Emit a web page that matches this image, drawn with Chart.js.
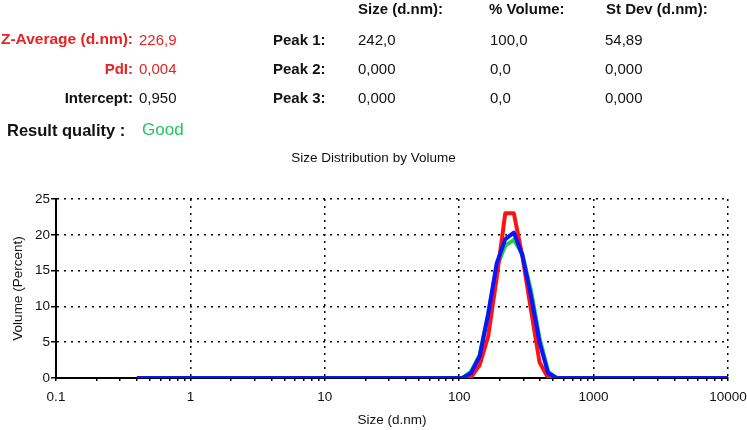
<!DOCTYPE html>
<html>
<head>
<meta charset="utf-8">
<script src="https://cdn.jsdelivr.net/npm/chart.js@4.4.1/dist/chart.umd.min.js"></script>
<style>
  body { margin: 0; background: #fff; font-family: Arial, "Liberation Sans", sans-serif; }
  #wrap { position: relative; width: 747px; height: 430px; overflow: hidden; }
  #sizeChart { position: absolute; left: 0; top: 0; }
  .t { position: absolute; transform: translateY(-50%); white-space: nowrap; font-size: 15px; color: #111; }
  .b { font-weight: bold; }
  .red { color: #e62222; }
  .lab { width: 133px; text-align: right; left: 0; }
</style>
</head>
<body>
<div id="wrap">
  <canvas id="sizeChart" width="747" height="430"></canvas>

  <div class="t b" style="left:358px; top:8px;">Size (d.nm):</div>
  <div class="t b" style="left:489px; top:8px;">% Volume:</div>
  <div class="t b" style="left:606px; top:8px;">St Dev (d.nm):</div>

  <div class="t b red lab" style="top:39px; font-size:15.5px;">Z-Average (d.nm):</div>
  <div class="t red" style="left:139px; top:39px;">226,9</div>
  <div class="t b red lab" style="top:68px;">PdI:</div>
  <div class="t red" style="left:139px; top:68px;">0,004</div>
  <div class="t b lab" style="top:97px;">Intercept:</div>
  <div class="t" style="left:139px; top:97px;">0,950</div>

  <div class="t b" style="left:273px; top:39px;">Peak 1:</div>
  <div class="t b" style="left:273px; top:68px;">Peak 2:</div>
  <div class="t b" style="left:273px; top:97px;">Peak 3:</div>

  <div class="t" style="left:358px; top:39px;">242,0</div>
  <div class="t" style="left:490px; top:39px;">100,0</div>
  <div class="t" style="left:605px; top:39px;">54,89</div>
  <div class="t" style="left:358px; top:68px;">0,000</div>
  <div class="t" style="left:490px; top:68px;">0,0</div>
  <div class="t" style="left:605px; top:68px;">0,000</div>
  <div class="t" style="left:358px; top:97px;">0,000</div>
  <div class="t" style="left:490px; top:97px;">0,0</div>
  <div class="t" style="left:605px; top:97px;">0,000</div>

  <div class="t b" style="left:7px; top:130px; font-size:16.5px;">Result quality :</div>
  <div class="t" style="left:142px; top:130px; font-size:17px; color:#1ec85a;">Good</div>
</div>

<script>
// size classes (d.nm) used by the curves
var sizes = [0.4, 91.28, 105.7, 122.4, 141.8, 164.2, 190.1, 220.2, 255.0, 295.3, 342.0, 396.1, 458.7, 531.2, 615.1, 10000];

// volume % per size class, one per measurement
var run1 = [0, 0, 0, 0.1, 1.8, 5.8, 14.0, 23.0, 23.0, 17.0, 9.5, 2.2, 0, 0, 0, 0];      // red
var run2 = [0, 0, 0, 0.9, 3.2, 9.0, 15.5, 18.5, 19.3, 17.3, 12.2, 5.6, 0.9, 0, 0, 0];  // green
var run3 = [0, 0, 0, 0.7, 3.0, 8.9, 16.0, 19.4, 20.3, 17.1, 11.5, 5.0, 0.7, 0, 0, 0];  // blue

var xMajor = [0.1, 1, 10, 100, 1000, 10000];
var xMajorLabels = ["0.1", "1", "10", "100", "1000", "10000"];
var xMinorSteps = [2, 3, 4, 5, 6, 7, 8, 9];
var yTicks = [0, 5, 10, 15, 20, 25];

function toPoints(vals) {
    return sizes.map(function(s, i) {
        return { x: s, y: vals[i] };
    });
}

function isMajorX(v) {
    var l = Math.log10(v);
    return Math.abs(l - Math.round(l)) < 1e-6;
}

var xTickValues = [];
xMajor.forEach(function(d, i) {
    xTickValues.push(d);
    if (i < xMajor.length - 1) {
        xMinorSteps.forEach(function(m) { xTickValues.push(d * m); });
    }
});

Chart.defaults.font.family = 'Arial, "Liberation Sans", sans-serif';
Chart.defaults.color = '#111';

var sizeChart_var = new Chart(document.getElementById('sizeChart'), {
    type: 'line',
    data: {
        datasets: [{
            data: toPoints(run3),
            borderColor: '#0a14ff',
            borderWidth: 4
        }, {
            data: toPoints(run1),
            borderColor: '#ff1212',
            borderWidth: 4
        }, {
            data: toPoints(run2),
            borderColor: '#20d040',
            borderWidth: 4
        }]
    },
    options: {
        responsive: false,
        animation: false,
        layout: { padding: 0 },
        elements: {
            point: { radius: 0 },
            line: { tension: 0, borderJoinStyle: 'round' }
        },
        plugins: {
            legend: { display: false },
            tooltip: { enabled: false },
            title: {
                display: true,
                text: 'Size Distribution by Volume',
                color: '#111',
                font: { size: 13.5, weight: 'normal' },
                padding: { top: 150, bottom: 32.8 }
            }
        },
        scales: {
            x: {
                type: 'logarithmic',
                min: 0.1,
                max: 10000,
                afterBuildTicks: function(scale) {
                    scale.ticks = xTickValues.map(function(v) { return { value: v }; });
                },
                afterFit: function(scale) {
                    scale.height = 52;
                    scale.paddingLeft = 0;
                    scale.paddingRight = 19;
                },
                ticks: {
                    autoSkip: false,
                    maxRotation: 0,
                    padding: 8,
                    color: '#111',
                    font: { size: 13.5 },
                    callback: function(v) {
                        var idx = xMajor.findIndex(function(m) { return Math.abs(m - v) < 1e-9 * Math.max(1, m); });
                        return idx >= 0 ? xMajorLabels[idx] : '';
                    }
                },
                grid: {
                    color: function(c) { return isMajorX(c.tick.value) ? '#000' : 'rgba(0,0,0,0)'; },
                    lineWidth: 1.5,
                    tickColor: '#000',
                    tickLength: 3,
                    tickWidth: 1.5
                },
                border: { display: true, color: '#000', width: 2, dash: [2, 5] },
                title: {
                    display: true,
                    text: 'Size (d.nm)',
                    color: '#111',
                    font: { size: 13.5 },
                    padding: { top: 0, bottom: 2 }
                }
            },
            y: {
                min: 0,
                max: 25,
                afterFit: function(scale) { scale.width = 56; },
                ticks: {
                    stepSize: 2.5,
                    padding: 1,
                    color: '#111',
                    font: { size: 13.5 },
                    callback: function(v) { return yTicks.indexOf(v) >= 0 ? String(v) : ''; }
                },
                grid: {
                    color: function(c) { return yTicks.indexOf(c.tick.value) > 0 ? '#000' : 'rgba(0,0,0,0)'; },
                    lineWidth: 1.5,
                    tickColor: '#000',
                    tickLength: 5,
                    tickWidth: 1.5
                },
                border: { display: true, color: '#000', width: 2, dash: [2, 5] },
                title: {
                    display: true,
                    text: 'Volume (Percent)',
                    color: '#111',
                    font: { size: 13.5 },
                    padding: { top: 10, bottom: 0 }
                }
            }
        }
    }
});
</script>
</body>
</html>
